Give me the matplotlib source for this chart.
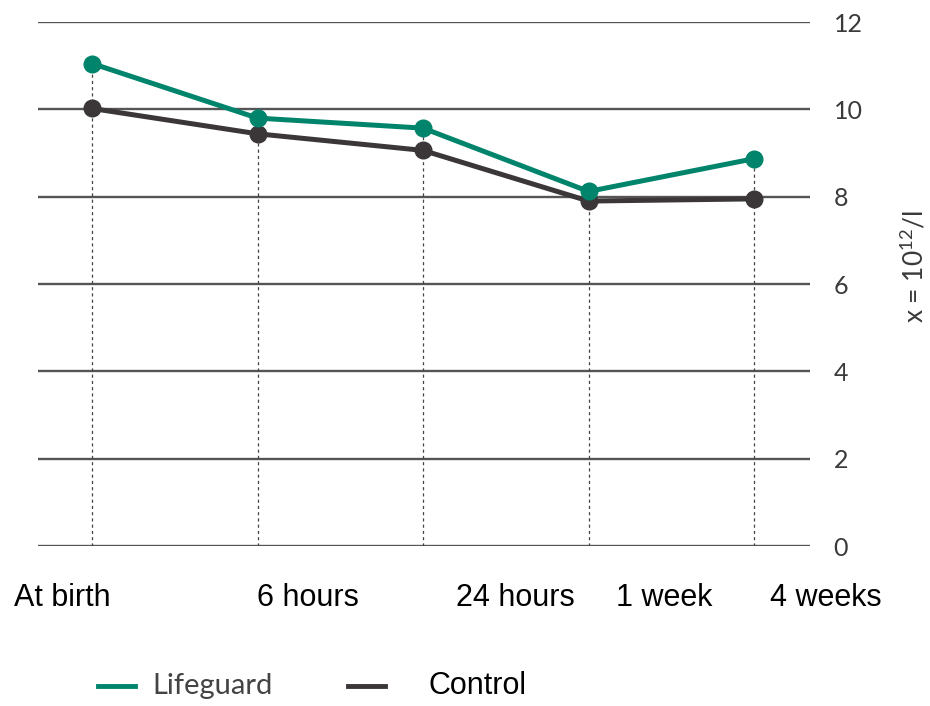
import matplotlib.pyplot as plt

plt.rcParams["mathtext.default"] = "regular"

categories = ["At birth", "6 hours", "24 hours", "1 week", "4 weeks"]
lifeguard = [11.05, 9.8, 9.57, 8.12, 8.87]
control = [10.02, 9.44, 9.06, 7.9, 7.95]
yticks = [0, 2, 4, 6, 8, 10, 12]

green = "#00846b"
dark = "#3b3637"
grey_txt = "#3a3a3a"

fig = plt.figure(figsize=(9.3, 7.06), dpi=100)
ax = fig.add_axes([0.041, 0.2266, 0.83, 0.7422])

x = list(range(len(categories)))

# horizontal grid lines
for t in yticks:
    ax.axhline(t, color="#555555", lw=1.7, zorder=1)

# dotted drop lines
for i in x:
    ax.plot([i, i], [0, max(lifeguard[i], control[i])], color="#444444",
            lw=0.9, ls=(0, (2.5, 2.5)), zorder=2)

ax.plot(x, control, color=dark, lw=3.6, marker="o", ms=12, zorder=3, clip_on=False)
ax.plot(x, lifeguard, color=green, lw=3.6, marker="o", ms=12, zorder=4, clip_on=False)

ax.set_xlim(-0.326, 4.338)
ax.set_ylim(0, 12)
for s in ax.spines.values():
    s.set_visible(False)
ax.set_xticks([])
ax.yaxis.tick_right()
ax.set_yticks(yticks)
ax.set_yticklabels([str(t) for t in yticks], fontsize=18, color=grey_txt,
                   family="Lato")
ax.tick_params(axis="y", length=0, pad=17)

ax.yaxis.set_label_position("right")
ax.set_ylabel("x = 10$^{12}$/l", fontsize=19, color=grey_txt, family="Lato")
ax.yaxis.set_label_coords(1.116, 0.534)

# category labels (shifted like the original)
label_x = [-0.18, 1.305, 2.556, 3.456, 4.435]
for lx, name in zip(label_x, categories):
    ax.text(lx, -1.2, name, ha="center", va="center", fontsize=22,
            family="Liberation Sans", color="black")

# legend
ly = 1 - 686 / 706
fig.lines.append(plt.Line2D([98 / 930, 135 / 930], [ly, ly],
                            color=green, lw=3.5, transform=fig.transFigure))
fig.text(152 / 930, ly, "Lifeguard", fontsize=21, color="#444444",
         family="Lato", va="center")
fig.lines.append(plt.Line2D([348 / 930, 385 / 930], [ly, ly],
                            color=dark, lw=3.5, transform=fig.transFigure))
fig.text(428 / 930, ly, "Control", fontsize=22, color="black",
         family="Liberation Sans", va="center")

fig.savefig("out.png", dpi=100)
